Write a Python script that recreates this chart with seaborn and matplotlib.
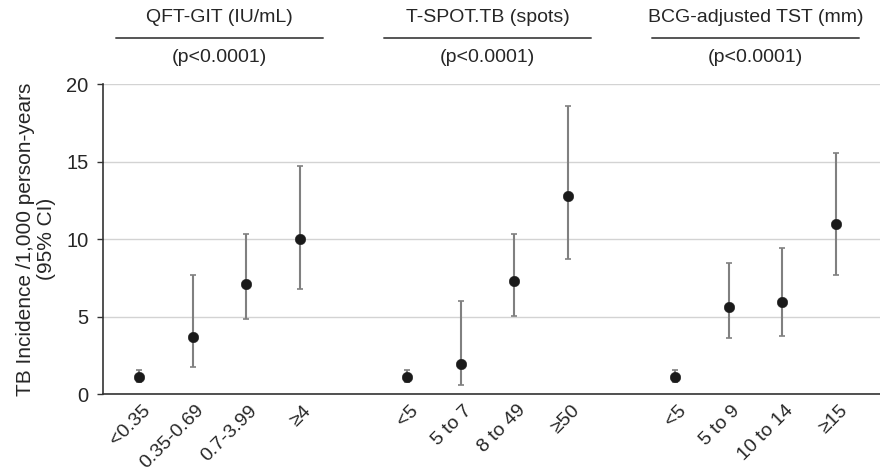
import numpy as np
import pandas as pd
import matplotlib
matplotlib.use("Agg")
import matplotlib.pyplot as plt
import matplotlib.transforms as mtransforms
import seaborn as sns

groups = ["QFT-GIT (IU/mL)", "T-SPOT.TB (spots)", "BCG-adjusted TST (mm)"]
p_values = ["(p<0.0001)", "(p<0.0001)", "(p<0.0001)"]
categories = [
    ["<0.35", "0.35-0.69", "0.7-3.99", "\u22654"],
    ["<5", "5 to 7", "8 to 49", "\u226550"],
    ["<5", "5 to 9", "10 to 14", "\u226515"],
]
incidence = [
    [1.1, 3.68, 7.14, 10.04],
    [1.1, 1.95, 7.29, 12.77],
    [1.1, 5.61, 5.98, 10.99],
]
ci_low = [
    [0.78, 1.74, 4.87, 6.79],
    [0.78, 0.62, 5.03, 8.73],
    [0.78, 3.65, 3.74, 7.70],
]
ci_high = [
    [1.55, 7.70, 10.34, 14.73],
    [1.55, 6.04, 10.34, 18.58],
    [1.55, 8.47, 9.44, 15.57],
]

rows = []
for gi, g in enumerate(groups):
    for ci, c in enumerate(categories[gi]):
        rows.append(dict(group=g, cat=c, pos=gi * 5 + ci,
                         y=incidence[gi][ci], lo=ci_low[gi][ci], hi=ci_high[gi][ci]))
df = pd.DataFrame(rows)

sns.set_theme(style="white")
plt.rcParams["font.family"] = ["Liberation Sans", "DejaVu Sans"]

fig = plt.figure(figsize=(8.8, 4.73), dpi=100)
ax = fig.add_axes([0.117, 0.1664, 0.883, 0.6554])

ax.errorbar(df["pos"], df["y"], yerr=[df["y"] - df["lo"], df["hi"] - df["y"]],
            fmt="none", ecolor="#808080", elinewidth=1.5, capsize=2.0, capthick=1.2, zorder=2)
sns.scatterplot(data=df, x="pos", y="y", ax=ax, color="#1a1a1a", s=58,
                edgecolor="#1a1a1a", linewidth=0.3, zorder=3, legend=False)

ax.set_xlim(-0.67, 13.82)
ax.set_ylim(0, 20)
ax.set_yticks([0, 5, 10, 15, 20])
ax.yaxis.grid(True, color="#d3d3d3", linewidth=1.0)
ax.set_axisbelow(True)
ax.set_xticks(df["pos"])
ax.set_xticklabels(df["cat"], rotation=45, ha="right", rotation_mode="anchor", fontsize=14)
ax.tick_params(axis="y", labelsize=14.5, left=True, length=4.5, width=1, color="#333333", pad=6)
ax.tick_params(axis="x", bottom=False, pad=0)
offset = mtransforms.ScaledTranslation(2 / 72, 0.5 / 72, fig.dpi_scale_trans)
for lab in ax.get_xticklabels():
    lab.set_transform(lab.get_transform() + offset)
ax.set_xlabel("")
ax.set_ylabel("TB Incidence /1,000 person-years\n(95% CI)", fontsize=15, linespacing=1.15)
ax.yaxis.set_label_coords(-0.06, 0.5)
for s in ["top", "right"]:
    ax.spines[s].set_visible(False)
for s in ["left", "bottom"]:
    ax.spines[s].set_color("#333333")
    ax.spines[s].set_linewidth(1.2)

trans = mtransforms.blended_transform_factory(ax.transData, fig.transFigure)
for gi, g in enumerate(groups):
    center = gi * 5 + 1.5
    ax.text(center, 0.963, g, transform=trans, ha="center", va="center", fontsize=14)
    ax.plot([center - 1.93, center + 1.93], [0.920, 0.920], transform=trans,
            color="#555555", linewidth=1.4, clip_on=False)
    ax.text(center, 0.879, p_values[gi], transform=trans, ha="center", va="center", fontsize=14)

fig.savefig("out.png", dpi=100)
